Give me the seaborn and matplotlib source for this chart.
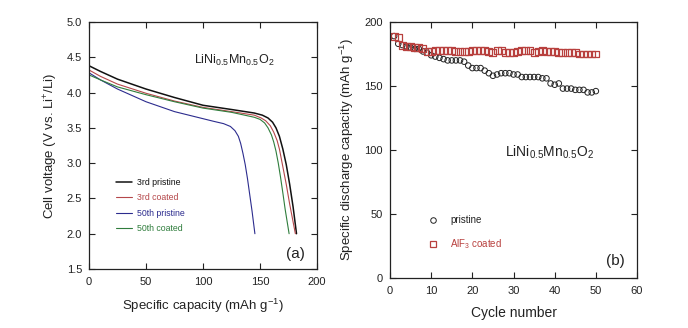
import matplotlib
matplotlib.use("Agg")
import matplotlib.pyplot as plt
import seaborn as sns
from matplotlib.lines import Line2D

# (a) 放電曲線：容量 (mAh/g) 與電壓 (V)
cap_3rd_pristine = [0, 10, 25, 50, 75, 100, 125, 145, 152, 157, 161, 164, 167, 170, 173, 176, 179, 182]
volt_3rd_pristine = [4.38, 4.30, 4.19, 4.05, 3.93, 3.82, 3.76, 3.71, 3.68, 3.64, 3.58, 3.50, 3.38, 3.20, 2.98, 2.70, 2.38, 2.00]

cap_3rd_coated = [0, 10, 25, 50, 75, 100, 125, 145, 151, 155, 159, 162, 165, 167, 170, 173, 176, 181]
volt_3rd_coated = [4.32, 4.23, 4.12, 3.99, 3.88, 3.79, 3.73, 3.68, 3.64, 3.60, 3.53, 3.44, 3.32, 3.20, 2.95, 2.70, 2.42, 2.00]

cap_50th_pristine = [0, 10, 25, 50, 75, 100, 110, 118, 124, 128, 131, 133, 135, 137, 139, 141, 143, 145.5]
volt_50th_pristine = [4.28, 4.18, 4.05, 3.87, 3.73, 3.63, 3.59, 3.56, 3.52, 3.46, 3.38, 3.28, 3.14, 2.98, 2.78, 2.55, 2.32, 2.00]

cap_50th_coated = [0, 10, 25, 50, 75, 100, 125, 145, 150, 154, 157, 160, 162, 164, 166, 168, 170, 172, 175.5]
volt_50th_coated = [4.25, 4.18, 4.08, 3.97, 3.87, 3.78, 3.72, 3.65, 3.62, 3.57, 3.50, 3.40, 3.30, 3.17, 3.00, 2.80, 2.58, 2.35, 2.00]

# (b) 循環壽命
cycles = list(range(1, 51))
cap_pristine = [189, 183, 182, 181, 180, 179, 179, 177, 176, 174,
                173, 172, 171, 170, 170, 170, 170, 169, 166, 164,
                164, 164, 162, 160, 158, 159, 160, 160, 160, 159,
                159, 157, 157, 157, 157, 157, 156, 156, 152, 151,
                152, 148, 148, 148, 147, 147, 147, 145, 145, 146]
cap_coated = [189, 188, 182, 181, 181, 180, 180, 179, 177, 177,
              178, 178, 178, 178, 178, 177, 177, 177, 177, 178,
              178, 178, 178, 177, 176, 178, 178, 176, 176, 176,
              177, 178, 178, 178, 176, 177, 178, 177, 177, 177,
              176, 176, 176, 176, 176, 175, 175, 175, 175, 175]

curves = [
    ("3rd pristine", cap_3rd_pristine, volt_3rd_pristine, "#111111", 1.1),
    ("3rd coated", cap_3rd_coated, volt_3rd_coated, "#b5474a", 0.8),
    ("50th pristine", cap_50th_pristine, volt_50th_pristine, "#2c2c8e", 0.8),
    ("50th coated", cap_50th_coated, volt_50th_coated, "#2f7d3c", 0.8),
]
red = "#b8403e"

sns.set_theme(style="ticks")
plt.rcParams["font.family"] = ["Liberation Sans", "DejaVu Sans"]
plt.rcParams["mathtext.default"] = "regular"
plt.rcParams["axes.linewidth"] = 0.9
plt.rcParams["text.color"] = "#222222"
plt.rcParams["axes.labelcolor"] = "#222222"

fig = plt.figure(figsize=(6.88, 3.28), dpi=100)
ax1 = fig.add_axes([0.1294, 0.1799, 0.3314, 0.7530])
ax2 = fig.add_axes([0.5669, 0.1524, 0.3590, 0.7805])

# ---- (a)
for label, x, y, c, lw in curves:
    sns.lineplot(x=x, y=y, ax=ax1, color=c, lw=lw, sort=False, label=label)

ax1.set_xlim(0, 200)
ax1.set_ylim(1.5, 5.0)
ax1.set_xticks([0, 50, 100, 150, 200])
ax1.set_yticks([1.5, 2.0, 2.5, 3.0, 3.5, 4.0, 4.5, 5.0])
ax1.set_yticklabels([f"{v:.1f}" for v in ax1.get_yticks()])
ax1.set_xlabel("Specific capacity (mAh g$^{-1}$)", fontsize=9.5, labelpad=7)
ax1.set_ylabel("Cell voltage (V vs. Li$^{+}$/Li)", fontsize=9.5, labelpad=5)
ax1.text(92, 4.46, "LiNi$_{0.5}$Mn$_{0.5}$O$_2$", fontsize=9, va="center", ha="left")
ax1.text(189, 1.71, "(a)", fontsize=11, ha="right", va="center")
ax1.legend(loc="upper left", bbox_to_anchor=(0.118, 0.37), frameon=False,
           fontsize=6.3, handlelength=1.8, handletextpad=0.6, labelspacing=0.75,
           borderpad=0, borderaxespad=0, labelcolor="linecolor")

# ---- (b)
sns.scatterplot(x=cycles, y=cap_pristine, ax=ax2, marker="o", s=16,
                facecolor="none", edgecolor="#222222", linewidth=0.7)
sns.scatterplot(x=cycles, y=cap_coated, ax=ax2, marker="s", s=25,
                facecolor="none", edgecolor=red, linewidth=0.9)

ax2.set_xlim(0, 60)
ax2.set_ylim(0, 200)
ax2.set_xticks([0, 10, 20, 30, 40, 50, 60])
ax2.set_yticks([0, 50, 100, 150, 200])
ax2.set_xlabel("Cycle number", fontsize=10, labelpad=7)
ax2.set_ylabel("Specific discharge capacity (mAh g$^{-1}$)", fontsize=9.5, labelpad=6)
ax2.text(28, 98, "LiNi$_{0.5}$Mn$_{0.5}$O$_2$", fontsize=10, va="center", ha="left")
ax2.text(57, 13, "(b)", fontsize=11, ha="right", va="center")

handles = [
    Line2D([], [], ls="none", marker="o", ms=4, mfc="none", mec="#222222", mew=0.7),
    Line2D([], [], ls="none", marker="s", ms=5, mfc="none", mec=red, mew=0.9),
]
leg = ax2.legend(handles, ["pristine", "AlF$_3$ coated"], loc="upper left",
                 bbox_to_anchor=(0.146, 0.245), frameon=False, fontsize=7,
                 handlelength=1.5, handletextpad=1.0, labelspacing=1.25,
                 borderpad=0, borderaxespad=0)
leg.get_texts()[1].set_color(red)

for ax in (ax1, ax2):
    ax.tick_params(direction="in", top=True, right=True, length=4, width=0.8,
                   labelsize=8, colors="#222222")
    ax.tick_params(axis="x", pad=6)
    ax.tick_params(axis="y", pad=5)
    for s in ax.spines.values():
        s.set_visible(True)
        s.set_color("#222222")

fig.savefig("out.png", dpi=100)
